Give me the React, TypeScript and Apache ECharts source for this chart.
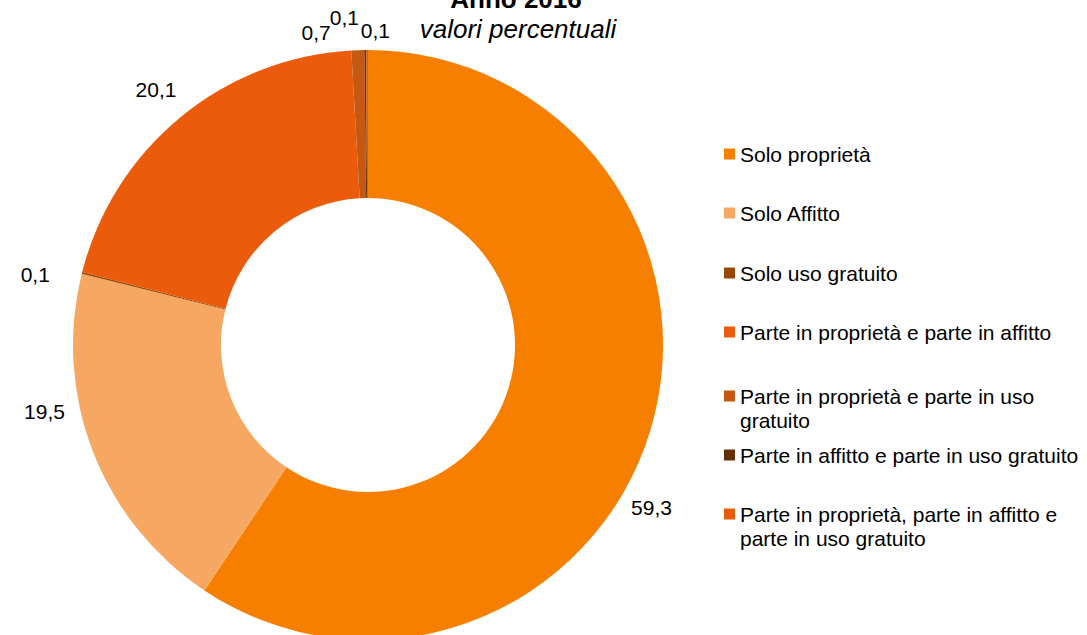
import React, { useEffect, useRef } from "react";
import * as echarts from "echarts";

const categories = [
  "Solo proprietà",
  "Solo Affitto",
  "Solo uso gratuito",
  "Parte in proprietà e parte in affitto",
  "Parte in proprietà e parte in uso gratuito",
  "Parte in affitto e parte in uso gratuito",
  "Parte in proprietà, parte in affitto e parte in uso gratuito",
];
const values = [59.3, 19.5, 0.1, 20.1, 0.7, 0.1, 0.1];
const legendLabels = [
  "Solo proprietà",
  "Solo Affitto",
  "Solo uso gratuito",
  "Parte in proprietà e parte in affitto",
  "Parte in proprietà e parte in uso\ngratuito",
  "Parte in affitto e parte in uso gratuito",
  "Parte in proprietà, parte in affitto e\nparte in uso gratuito",
];
const colors = ["#F77F00", "#F6A863", "#974806", "#EB5B0C", "#C65911", "#632F05", "#E65C0A"];

const FONT = "'Liberation Sans', Arial, sans-serif";
const legendTops = [154, 213, 273, 332, 396, 455, 514];
const labelShift: [number, number][] = [
  [-53, 68],
  [5, -51],
  [2, 9],
  [20, -5],
  [-21, 12],
  [-1, -3],
  [28, 10],
];

export default function App() {
  const ref = useRef<HTMLDivElement>(null);
  useEffect(() => {
    if (!ref.current) return;
    document.body.style.margin = "0";
    const chart = echarts.init(ref.current, undefined, { renderer: "svg" });
    const legends = categories.map((name, i) => {
      const twoLine = legendLabels[i].includes("\n");
      return {
        orient: "vertical",
        left: 719,
        top: legendTops[i] - 17,
        itemWidth: 11,
        itemHeight: twoLine ? 35 : 11,
        icon: twoLine ? "path://M0,0H11V11H0ZM0,35L0.05,35" : "rect",
        selectedMode: false,
        data: [name],
        formatter: () => legendLabels[i],
        textStyle: {
          fontFamily: FONT,
          fontSize: 21,
          color: "#000",
          lineHeight: 24,
        },
      };
    });
    chart.setOption({
      animation: false,
      color: colors,
      graphic: [
        {
          type: "text",
          x: 516,
          y: -1,
          style: {
            text: "Anno 2016",
            font: `bold 26px ${FONT}`,
            fill: "#000",
            textAlign: "center",
            textVerticalAlign: "middle",
          },
        },
        {
          type: "text",
          x: 518,
          y: 29,
          style: {
            text: "valori percentuali",
            font: `italic 26px ${FONT}`,
            fill: "#000",
            textAlign: "center",
            textVerticalAlign: "middle",
          },
        },
      ],
      legend: legends,
      series: [
        {
          type: "pie",
          center: [368, 345],
          radius: [147, 295],
          startAngle: 90,
          clockwise: true,
          avoidLabelOverlap: false,
          label: {
            show: true,
            position: "outside",
            fontFamily: FONT,
            fontSize: 21,
            color: "#000",
            formatter: (p: any) => String(p.value).replace(".", ","),
          },
          labelLine: { show: false, length: 30, length2: 0 },
          labelLayout: (p: any) => ({ dx: labelShift[p.dataIndex][0], dy: labelShift[p.dataIndex][1] }),
          emphasis: { disabled: true },
          data: categories.map((name, i) => ({ name, value: values[i] })),
        },
      ],
    });
    return () => chart.dispose();
  }, []);
  return <div ref={ref} style={{ width: 1087, height: 635 }} />;
}
